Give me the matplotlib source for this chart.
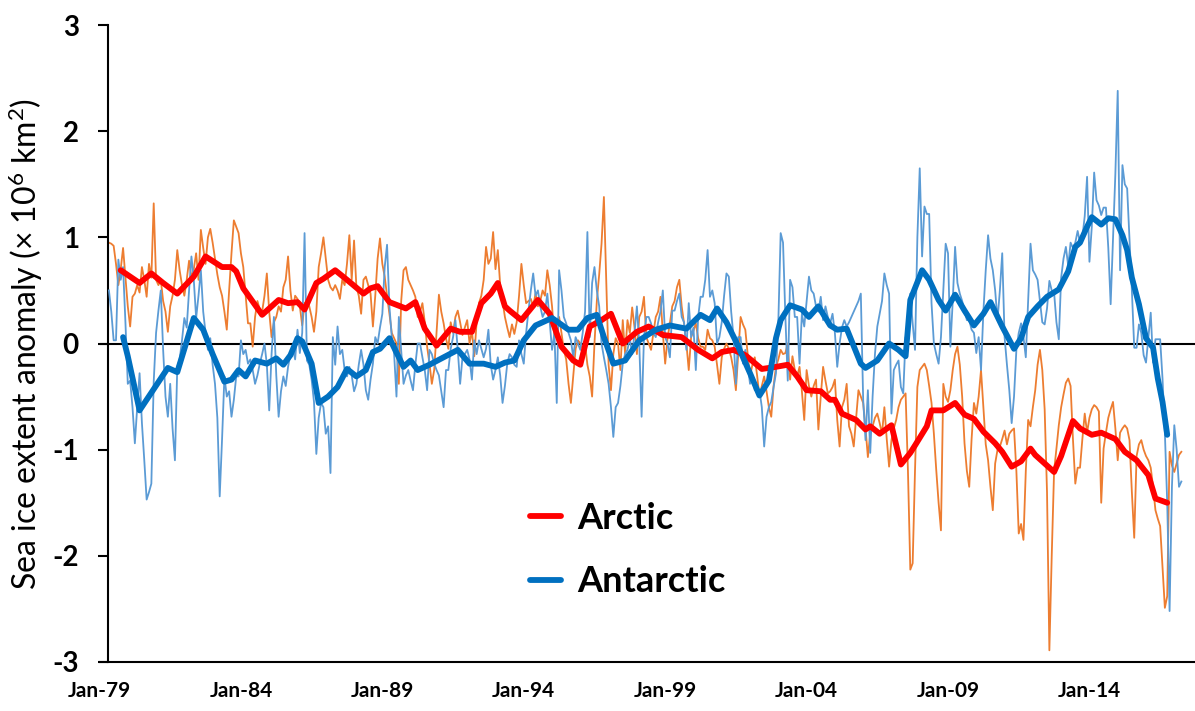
import numpy as np
import matplotlib
matplotlib.use('Agg')
import matplotlib.pyplot as plt

plt.rcParams['font.family'] = ['Lato', 'DejaVu Sans']
plt.rcParams['mathtext.fontset'] = 'custom'
plt.rcParams['mathtext.rm'] = 'Lato'
plt.rcParams['mathtext.it'] = 'Lato:italic'
plt.rcParams['mathtext.bf'] = 'Lato:bold'

# ############################################################
# Data: monthly sea ice extent anomalies (10^6 km2)
# months are counted from Jan 1979; first monthly value is May 1979
raw_start = 4

arctic_monthly = [
    0.95, 0.94, 0.92, 0.75, 0.55, 0.70, 0.90, 0.62, 0.35, 0.16, 0.44, 0.47,
    0.55, 0.48, 0.72, 0.60, 0.44, 0.75, 0.62, 1.32, 0.60, 0.55, 0.60, 0.40,
    0.30, 0.11, 0.35, 0.45, 0.60, 0.88, 0.69, 0.55, 0.45, 0.60, 0.78, 0.62,
    0.70, 0.85, 0.60, 1.07, 0.90, 0.75, 1.00, 1.08, 0.95, 0.80, 0.65, 0.53,
    0.45, 0.30, 0.13, 0.50, 0.85, 1.16, 1.10, 1.04, 0.85, 0.72, 0.45, 0.19,
    0.19, -0.03, 0.25, 0.40, 0.32, 0.30, 0.45, 0.66, 0.30, 0.06, 0.20, 0.25,
    0.35, 0.30, 0.53, 0.60, 0.82, 0.50, 0.31, 0.45, 0.42, 0.35, 0.17, 0.38,
    0.40, 0.35, 0.25, 0.11, 0.30, 0.72, 0.85, 1.00, 0.80, 0.60, 0.53, 0.50,
    0.55, 0.50, 0.42, 0.60, 0.55, 0.75, 1.02, 0.60, 0.97, 0.53, 0.45, 0.28,
    0.60, 0.63, 0.55, 0.47, 0.16, 0.45, 0.80, 0.99, 0.75, 0.63, 0.45, 0.28,
    0.10, 0.05, 0.00, -0.38, 0.40, 0.69, 0.72, 0.60, 0.55, 0.50, 0.44, 0.25,
    0.30, 0.38, 0.20, -0.03, -0.19, -0.38, -0.25, 0.10, 0.46, 0.30, 0.19, 0.05,
    -0.05, 0.20, 0.10, 0.25, 0.31, 0.20, 0.08, 0.15, 0.22, 0.00, 0.12, -0.12,
    0.20, 0.38, 0.45, 0.60, 0.91, 0.75, 0.80, 1.05, 0.70, 0.88, 0.55, 0.40,
    0.25, 0.15, 0.06, 0.18, 0.09, 0.20, 0.45, 0.75, 0.55, 0.38, 0.40, 0.42,
    0.35, 0.47, 0.35, 0.40, 0.50, 0.45, 0.69, 0.55, 0.35, 0.06, 0.20, 0.25,
    0.10, -0.06, -0.15, -0.38, -0.56, -0.30, -0.05, 0.03, 0.00, -0.05, 0.00, -0.20,
    -0.31, -0.50, 0.00, 0.40, 0.65, 0.94, 1.38, 0.60, -0.20, -0.44, -0.10, 0.05,
    0.00, -0.25, 0.22, -0.10, 0.22, 0.10, 0.34, 0.15, -0.10, 0.25, 0.30, 0.44,
    0.06, 0.00, -0.06, 0.10, 0.25, 0.30, 0.44, 0.10, -0.19, 0.05, 0.19, 0.35,
    0.40, 0.53, 0.60, 0.35, 0.19, 0.00, -0.25, 0.06, 0.12, 0.19, 0.05, -0.03,
    -0.03, -0.06, 0.13, 0.05, 0.03, -0.03, -0.20, -0.38, -0.13, -0.05, 0.00, -0.05,
    -0.13, -0.25, -0.44, -0.10, 0.25, 0.18, 0.13, -0.10, -0.31, -0.20, -0.13, -0.30,
    -0.50, -0.40, -0.31, -0.45, -0.60, -0.69, -0.40, -0.22, -0.15, -0.06, -0.10, -0.09,
    0.00, -0.34, -0.12, -0.25, -0.31, -0.22, -0.45, -0.72, -0.25, -0.40, -0.50, -0.40,
    -0.34, -0.81, -0.50, -0.22, -0.35, -0.47, -0.45, -0.41, -0.34, -0.72, -0.97, -0.60,
    -0.53, -0.38, -0.78, -0.85, -0.97, -0.70, -0.44, -0.50, -0.56, -0.80, -1.07, -0.85,
    -0.78, -0.70, -0.66, -0.75, -0.85, -0.60, -0.90, -1.16, -0.91, -0.80, -0.72, -0.60,
    -0.53, -0.50, -0.47, -1.20, -2.13, -2.07, -1.19, -0.41, -0.25, -0.22, -0.19, -0.25,
    -0.40, -0.56, -0.85, -1.19, -1.50, -1.76, -0.38, -0.50, -0.55, -0.44, -0.25, -0.10,
    -0.03, -0.20, -0.50, -0.94, -1.20, -1.35, -0.90, -0.56, -0.66, -0.50, -0.25, -0.60,
    -0.95, -1.10, -1.35, -1.57, -1.13, -1.00, -0.97, -0.90, -0.82, -0.95, -0.85, -0.82,
    -0.80, -1.20, -1.79, -1.70, -1.85, -1.20, -0.72, -0.78, -0.60, -0.44, -0.20, -0.06,
    -0.25, -0.62, -1.40, -2.89, -2.00, -1.20, -0.99, -0.77, -0.60, -0.48, -0.37, -0.33,
    -0.40, -0.90, -1.32, -1.17, -1.17, -0.90, -0.66, -0.84, -0.70, -0.62, -0.58, -0.60,
    -0.64, -1.50, -0.99, -0.84, -0.70, -0.62, -0.55, -0.80, -1.10, -0.84, -0.80, -0.77,
    -0.80, -0.91, -1.40, -1.83, -1.06, -0.95, -0.91, -1.00, -1.06, -1.10, -1.17, -1.35,
    -1.57, -1.65, -1.72, -2.10, -2.49, -2.38, -1.02, -1.15, -1.21, -1.13, -1.05, -1.02,
]

antarctic_monthly = [
    0.50, 0.30, 0.03, 0.03, 0.79, 0.60, 0.72, 0.20, -0.38, -0.35, -0.60, -0.94,
    -0.60, -0.28, -0.75, -1.10, -1.47, -1.40, -1.32, -0.36, 0.10, 0.31, 0.50, -0.06,
    -0.50, -0.69, -0.38, -0.80, -1.10, -0.22, -0.15, 0.03, 0.24, 0.15, 0.50, 0.82,
    0.60, 0.24, 0.45, 0.69, 0.30, 0.10, -0.06, 0.05, -0.20, -0.38, -0.70, -1.44,
    -0.90, -0.31, -0.50, -0.45, -0.69, -0.53, -0.31, -0.31, 0.03, -0.10, -0.06, -0.19,
    -0.15, -0.25, -0.38, -0.30, -0.19, -0.10, 0.00, -0.20, -0.63, -0.10, 0.25, -0.30,
    -0.69, -0.45, -0.31, -0.40, -0.22, -0.10, -0.03, -0.15, 0.13, -0.09, 0.10, 1.04,
    -0.16, -0.20, -0.34, -0.55, -1.04, -0.70, -0.56, -0.60, -0.85, -0.78, -1.22, 0.06,
    -0.20, 0.16, -0.10, -0.06, -0.25, -0.31, -0.22, -0.30, -0.45, -0.38, -0.20, -0.06,
    -0.20, -0.44, -0.53, -0.34, -0.19, 0.06, 0.00, 0.15, 0.28, 0.72, 0.93, 0.35,
    0.06, -0.10, -0.50, 0.25, -0.06, -0.38, -0.30, -0.25, -0.35, -0.44, -0.20, 0.00,
    0.00, -0.13, -0.25, -0.44, -0.06, -0.10, -0.19, -0.25, -0.30, -0.45, -0.60, -0.25,
    -0.25, -0.05, 0.06, 0.22, -0.06, -0.38, -0.13, -0.10, -0.06, -0.15, -0.34, 0.03,
    -0.10, 0.03, -0.05, -0.13, -0.05, 0.13, -0.20, -0.34, -0.25, -0.13, -0.30, -0.56,
    -0.40, -0.19, -0.10, -0.13, -0.20, -0.22, 0.03, -0.10, -0.19, 0.10, 0.31, 0.50,
    0.66, 0.45, 0.50, 0.35, 0.25, 0.30, 0.47, 0.20, -0.06, 0.10, -0.56, 0.69,
    0.50, 0.25, 0.19, 0.10, 0.03, -0.13, 0.06, 0.00, -0.06, 0.10, 0.30, 1.05,
    0.06, 0.57, 0.72, 0.50, 0.35, 0.00, -0.13, -0.25, -0.38, -0.60, -0.88, -0.60,
    -0.56, -0.40, -0.19, -0.10, -0.06, 0.05, -0.10, 0.10, 0.35, 0.00, -0.69, 0.06,
    0.25, 0.25, 0.19, 0.10, 0.06, 0.20, 0.30, 0.50, 0.06, 0.00, -0.13, 0.31,
    0.31, 0.40, 0.47, 0.25, 0.20, -0.06, 0.38, 0.06, 0.15, -0.25, 0.25, 0.44,
    0.44, 0.60, 0.88, 0.44, 0.50, 0.38, 0.00, 0.06, 0.20, 0.45, 0.66, 0.63,
    0.30, 0.06, -0.38, 0.06, 0.06, -0.19, -0.06, -0.20, -0.38, -0.30, -0.44, -0.44,
    -0.44, -0.60, -0.97, -0.69, -0.60, -0.55, -0.41, -0.28, 0.20, 1.04, 0.95, 0.25,
    -0.35, 0.60, 0.53, 0.25, 0.25, -0.19, 0.28, 0.16, 0.40, 0.63, 0.50, 0.47,
    0.35, 0.30, 0.44, 0.22, 0.35, 0.25, 0.19, 0.28, 0.10, -0.22, 0.00, 0.15,
    0.22, 0.16, 0.20, 0.25, 0.30, 0.35, 0.40, 0.47, -0.53, -0.91, -0.44, -1.03,
    -0.50, -0.10, 0.16, 0.28, 0.40, 0.66, 0.55, 0.47, -0.66, -0.25, -0.20, -0.16,
    -0.41, -0.47, 0.06, 0.00, 0.47, 0.19, -0.06, 1.00, 1.65, 0.82, 1.29, 1.22,
    1.22, 0.38, 0.00, -0.10, -0.19, 0.06, 0.50, 0.94, 0.85, -0.03, 0.40, 0.91,
    0.57, 0.47, 0.40, 0.31, 0.22, 0.22, 0.13, 0.10, -0.09, 0.06, -0.25, 0.30,
    0.69, 1.02, 0.80, 0.69, 0.50, 0.22, 0.50, 0.85, 0.06, -0.20, -0.44, -0.75,
    -0.50, -0.06, 0.10, 0.19, 0.06, -0.13, 0.40, 0.94, 0.69, 0.65, 0.60, 0.40,
    0.20, 0.18, 0.33, 0.59, 0.50, 0.48, 0.20, 0.04, 0.62, 0.80, 0.91, 0.73,
    0.95, 0.90, 0.95, 1.06, 0.95, 1.00, 1.20, 1.57, 0.77, 1.10, 1.61, 1.35,
    1.30, 1.21, 1.28, 1.28, 0.90, 0.37, 0.99, 1.60, 2.38, 0.69, 1.68, 1.50,
    1.46, 0.99, 0.50, -0.04, -0.04, 0.18, 0.10, -0.11, -0.18, 0.05, 0.29, -0.18,
    0.04, 0.04, 0.04, -0.33, -0.84, -1.50, -2.52, -1.35, -0.77, -1.00, -1.35, -1.30,
]

# 12-month running means (month index from Jan 1979, value)
arctic_smooth_month = [
    9, 17, 22, 27, 33, 40, 45, 52, 56, 58, 61, 69, 76, 80, 84, 87, 92, 95, 100,
    105, 112, 115, 118, 123, 130, 134, 138, 143, 149, 153, 158, 162, 166, 169,
    172, 174, 179, 186, 191, 196, 201, 204, 208, 213, 217, 222, 228, 233, 239,
    247, 254, 260, 264, 269, 274, 281, 287, 292, 296, 300, 306, 310, 312, 315,
    321, 325, 327, 331, 336, 340, 344, 346, 351, 353, 358, 363, 367, 371, 375,
    380, 383, 387, 391, 395, 397, 402, 405, 408, 413, 416, 421, 425, 431, 435,
    440, 445, 448, 453]
arctic_smooth = [
    0.69, 0.57, 0.66, 0.57, 0.47, 0.63, 0.82, 0.72, 0.72, 0.68, 0.52, 0.27, 0.41,
    0.38, 0.39, 0.32, 0.57, 0.61, 0.69, 0.60, 0.47, 0.52, 0.54, 0.39, 0.33, 0.39,
    0.14, -0.02, 0.14, 0.11, 0.11, 0.38, 0.47, 0.57, 0.35, 0.31, 0.22, 0.41, 0.28,
    -0.03, -0.16, -0.20, 0.16, 0.22, 0.28, 0.00, 0.11, 0.16, 0.08, 0.06, -0.06,
    -0.14, -0.08, -0.06, -0.11, -0.24, -0.22, -0.20, -0.31, -0.44, -0.45, -0.53,
    -0.53, -0.66, -0.72, -0.81, -0.78, -0.85, -0.77, -1.14, -1.03, -0.96, -0.78,
    -0.63, -0.63, -0.56, -0.67, -0.71, -0.83, -0.94, -1.02, -1.16, -1.11, -0.99,
    -1.05, -1.15, -1.21, -1.06, -0.73, -0.80, -0.86, -0.84, -0.90, -1.02, -1.10,
    -1.24, -1.46, -1.50]

antarctic_smooth_month = [
    10, 12, 17, 23, 29, 33, 40, 44, 48, 53, 56, 59, 62, 66, 71, 75, 78, 81, 84,
    86, 90, 93, 97, 101, 105, 109, 113, 116, 119, 123, 129, 132, 135, 140, 146,
    152, 157, 163, 168, 172, 176, 180, 185, 192, 199, 203, 207, 211, 214, 218,
    223, 229, 236, 242, 249, 255, 259, 262, 266, 270, 276, 280, 284, 287, 289,
    293, 298, 301, 305, 310, 313, 317, 323, 325, 330, 335, 339, 342, 344, 349,
    352, 356, 359, 363, 367, 371, 375, 378, 383, 388, 391, 394, 398, 402, 407,
    411, 414, 416, 419, 421, 425, 428, 431, 434, 436, 438, 441, 444, 447, 449,
    451, 453]
antarctic_smooth = [
    0.06, -0.12, -0.63, -0.43, -0.23, -0.27, 0.24, 0.13, -0.10, -0.36, -0.34,
    -0.25, -0.31, -0.16, -0.19, -0.14, -0.20, -0.11, 0.05, 0.02, -0.19, -0.56,
    -0.50, -0.41, -0.24, -0.31, -0.25, -0.08, -0.05, 0.05, -0.22, -0.16, -0.25,
    -0.20, -0.13, -0.06, -0.19, -0.19, -0.22, -0.18, -0.16, 0.03, 0.17, 0.24,
    0.13, 0.13, 0.24, 0.27, 0.06, -0.19, -0.16, 0.03, 0.13, 0.17, 0.14, 0.27,
    0.22, 0.33, 0.20, 0.02, -0.28, -0.49, -0.35, 0.05, 0.22, 0.36, 0.32, 0.25,
    0.35, 0.17, 0.13, 0.14, -0.19, -0.23, -0.16, 0.00, -0.06, -0.12, 0.41, 0.69,
    0.60, 0.41, 0.31, 0.46, 0.31, 0.17, 0.28, 0.39, 0.16, -0.05, 0.05, 0.25,
    0.35, 0.44, 0.51, 0.68, 0.91, 0.95, 1.10, 1.19, 1.12, 1.18, 1.17, 1.02,
    0.88, 0.62, 0.37, 0.05, -0.04, -0.33, -0.55, -0.86]

tick_months = [0, 60, 120, 180, 240, 300, 360, 420]
tick_labels = ['Jan-79', 'Jan-84', 'Jan-89', 'Jan-94',
               'Jan-99', 'Jan-04', 'Jan-09', 'Jan-14']
y_ticks = [-3, -2, -1, 0, 1, 2, 3]

# ############################################################
# Figure
W, H = 1195, 711
fig = plt.figure(figsize=(W / 100, H / 100), dpi=100)
ax = fig.add_axes([99.5 / W, 1 - 662 / H, 1 - 99.5 / W, 637 / H])

months_raw = raw_start + np.arange(len(arctic_monthly))

ax.axhline(0, color='black', lw=1.5, zorder=1)
ax.plot(months_raw, arctic_monthly, color='#ED7D31', lw=1.3, zorder=2)
ax.plot(months_raw, antarctic_monthly, color='#5B9BD5', lw=1.3, zorder=3)
ax.plot(arctic_smooth_month, arctic_smooth, color='#FF0000', lw=4.2,
        solid_capstyle='round', solid_joinstyle='round', zorder=4, label='Arctic')
ax.plot(antarctic_smooth_month, antarctic_smooth, color='#0070C0', lw=4.2,
        solid_capstyle='round', solid_joinstyle='round', zorder=5, label='Antarctic')

ax.set_xlim(0, (W - 99.5) / 2.357)
ax.set_ylim(-3, 3)

for side in ['top', 'right']:
    ax.spines[side].set_visible(False)
ax.spines['left'].set_position(('data', 3.6))
ax.spines['left'].set_linewidth(1.5)
ax.spines['bottom'].set_linewidth(1.5)

ax.set_xticks(tick_months, tick_labels)
ax.set_yticks(y_ticks, [str(v) for v in y_ticks])
ax.tick_params(axis='x', length=0, pad=14, labelsize=15)
ax.tick_params(axis='y', length=7, width=1.5, direction='out', pad=14, labelsize=20)
for lab in ax.get_xticklabels() + ax.get_yticklabels():
    lab.set_fontweight('bold')

ax.set_ylabel(r'Sea ice extent anomaly (× 10$^{6}$ km$^{2}$)', fontsize=23, va='center')
ax.yaxis.set_label_coords((26 - 99.5) / (W - 99.5), 0.5)

ax.legend(loc='center left', bbox_to_anchor=((530 - 99.5) / (W - 99.5), (662 - 550) / 637),
          frameon=False, prop={'weight': 'bold', 'size': 26}, handlelength=0.85,
          handletextpad=0.45, labelspacing=0.85, borderpad=0, borderaxespad=0)

fig.savefig('out.png', dpi=100)
